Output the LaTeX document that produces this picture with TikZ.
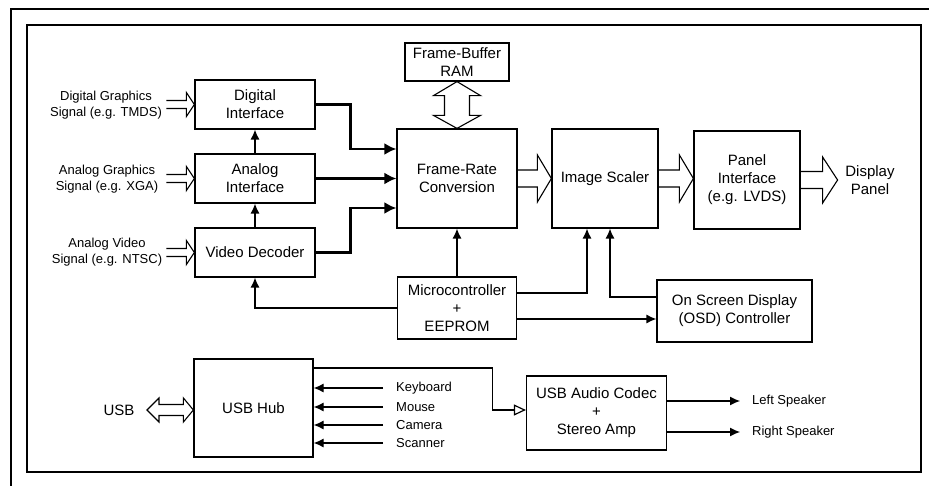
\documentclass[tikz,border=0pt]{standalone}
\usepackage{fontspec}
\setmainfont{Liberation Sans}
\usetikzlibrary{arrows.meta,calc}
\newcommand{\fatto}[5]{%
  \draw[hollow] let \p1=(#1), \p2=(#2) in
    (\x1,\y1+#3) -- (\x2-#5,\y1+#3) -- (\x2-#5,\y1+#4) -- (\x2,\y1)
    -- (\x2-#5,\y1-#4) -- (\x2-#5,\y1-#3) -- (\x1,\y1-#3);}

\begin{document}
\begin{tikzpicture}[x=1pt,y=-1pt,
  box/.style={draw,line width=1.2pt,align=center,inner sep=2pt,font=\fontsize{15}{18}\selectfont},
  lbl/.style={align=center,inner sep=2pt,font=\fontsize{13}{16.5}\selectfont},
  sig/.style={-{Latex[length=10pt,width=9pt]},line width=1.2pt},
  bus/.style={-{Latex[length=12pt,width=12pt]},line width=2.4pt},
  hollow/.style={draw,line width=1.1pt,line join=miter}]
\useasboundingbox (0,0) rectangle (929,486);
\draw[line width=1.4pt] (940,9) -- (11,9) -- (11,500);
\draw[line width=1.6pt] (27,25) rectangle (921,472);
\node[box,minimum width=120pt,minimum height=49pt] (dig) at (255,104.5) {Digital\\Interface};
\node[box,minimum width=120pt,minimum height=49pt] (ana) at (255,178.5) {Analog\\Interface};
\node[box,minimum width=120pt,minimum height=49pt] (vid) at (255,252.5) {Video Decoder};
\node[box,minimum width=120pt,minimum height=99pt] (frc) at (457,178.5) {Frame-Rate\\Conversion};
\node[box,minimum width=104pt,minimum height=38pt] (ram) at (457,62) {Frame-Buffer\\RAM};
\node[box,minimum width=106pt,minimum height=99pt] (scl) at (605,178.5) {Image Scaler};
\node[box,minimum width=106pt,minimum height=98pt] (pnl) at (747,180) {Panel\\Interface\\(e.g. LVDS)};
\node[box,minimum width=119pt,minimum height=62pt] (mcu) at (457,308) {Microcontroller\\+\\EEPROM};
\node[box,minimum width=155pt,minimum height=62pt] (osd) at (734.5,311) {On Screen Display\\(OSD) Controller};
\node[box,minimum width=119pt,minimum height=98pt] (hub) at (253.5,408) {USB Hub};
\node[box,minimum width=140pt,minimum height=74pt] (aud) at (596.5,413) {USB Audio Codec\\+\\Stereo Amp};
\node[lbl] (sdig) at (106,105) {Digital Graphics\\Signal (e.g. TMDS)};
\node[lbl] (sana) at (107,179) {Analog Graphics\\Signal (e.g. XGA)};
\node[lbl] (svid) at (107,252) {Analog Video\\Signal (e.g. NTSC)};
\node[box,draw=none] (usb) at (119,410) {USB};
\node[box,draw=none] (disp) at (870,180) {Display\\Panel};
\node[lbl,anchor=west] (kbd) at (394,388) {Keyboard};
\node[lbl,anchor=west] (mse) at (394,407) {Mouse};
\node[lbl,anchor=west] (cam) at (394,425) {Camera};
\node[lbl,anchor=west] (scn) at (394,443) {Scanner};
\node[lbl,anchor=west] (lspk) at (750,401) {Left Speaker};
\node[lbl,anchor=west] (rspk) at (750,432) {Right Speaker};
\fatto{[xshift=-28pt]dig.west}{dig.west}{4pt}{12pt}{8pt}
\fatto{[xshift=-28pt]ana.west}{ana.west}{4pt}{12pt}{8pt}
\fatto{[xshift=-28pt]vid.west}{vid.west}{4pt}{12pt}{8pt}
\fatto{frc.east}{scl.west}{8.5pt}{23.5pt}{14pt}
\fatto{scl.east}{pnl.west}{8.5pt}{23.5pt}{14pt}
\fatto{pnl.east}{[xshift=37pt]pnl.east}{8.5pt}{23pt}{15pt}
\draw[hollow] let \p1=(ram.south), \p2=(frc.north) in
  (\x1,\y1) -- (\x1+23.5pt,\y1-14pt) -- (\x1+12.5pt,\y1-14pt) -- (\x1+12.5pt,\y2+13pt)
  -- (\x1+23.5pt,\y2+13pt) -- (\x2,\y2) -- (\x1-23.5pt,\y2+13pt) -- (\x1-12.5pt,\y2+13pt)
  -- (\x1-12.5pt,\y1-14pt) -- (\x1-23.5pt,\y1-14pt) -- cycle;
\draw[hollow] let \p1=([xshift=10pt]usb.east), \p2=(hub.west) in
  (\x1,\y1) -- (\x1+12pt,\y1+12pt) -- (\x1+12pt,\y1+5.5pt) -- (\x2-10pt,\y1+5.5pt)
  -- (\x2-10pt,\y1+12pt) -- (\x2,\y1) -- (\x2-10pt,\y1-12pt) -- (\x2-10pt,\y1-5.5pt)
  -- (\x1+12pt,\y1-5.5pt) -- (\x1+12pt,\y1-12pt) -- cycle;
\draw[bus] (dig.east) -- ++(35,0) |- ([yshift=29.5pt]frc.west);
\draw[bus] (ana) -- (frc);
\draw[bus] (vid.east) -- ++(35,0) |- ([yshift=-29.5pt]frc.west);
\draw[sig] (ana) -- (dig);
\draw[sig] (vid) -- (ana);
\draw[sig] (mcu) -- (frc);
\draw[sig] ([yshift=15pt]mcu.east) -| ([xshift=-18pt]scl.south);
\draw[sig] ([yshift=14pt]osd.west) -| ([xshift=5pt]scl.south);
\draw[sig] ([yshift=-11pt]mcu.east) -- ([yshift=-11pt]mcu.east -| osd.west);
\draw[sig] (mcu.west) -| (vid.south);
\draw[-{Triangle[open,length=12pt,width=11pt]},line width=1.2pt] ([yshift=40pt]hub.east) -- ++(179,0) |- ([yshift=3pt]aud.west);
\draw[sig] ([xshift=-11pt]kbd.west) -- (kbd.west -| hub.east);
\draw[sig] ([xshift=-11pt]mse.west) -- (mse.west -| hub.east);
\draw[sig] ([xshift=-11pt]cam.west) -- (cam.west -| hub.east);
\draw[sig] ([xshift=-11pt]scn.west) -- (scn.west -| hub.east);
\draw[sig] ([yshift=12pt]aud.east) -- ([xshift=-10pt]lspk.west);
\draw[sig] ([yshift=-19pt]aud.east) -- ([xshift=-10pt]rspk.west);
\end{tikzpicture}
\end{document}
